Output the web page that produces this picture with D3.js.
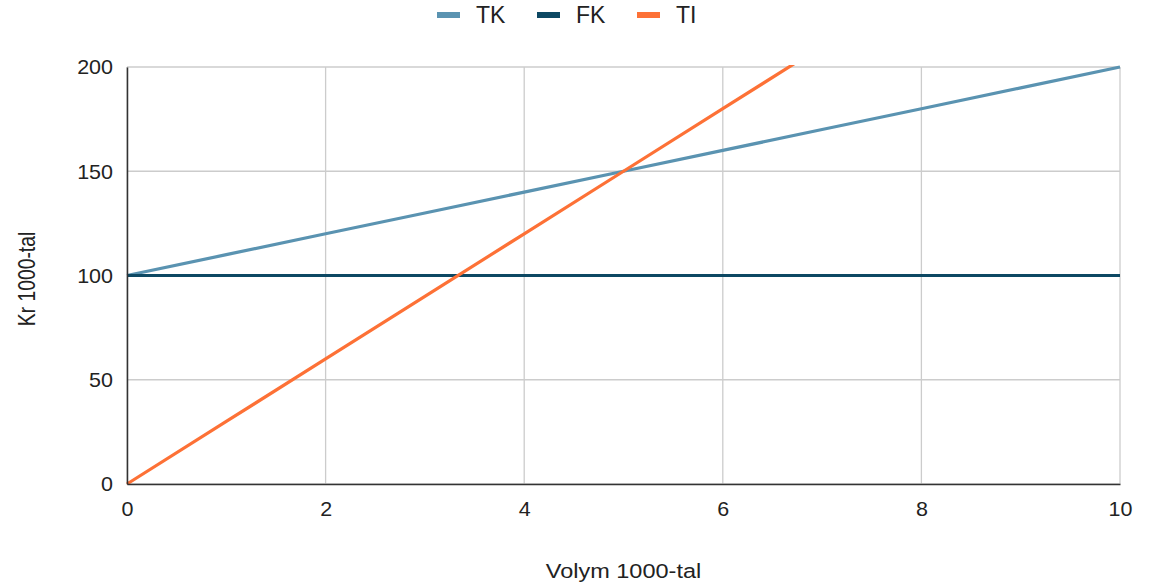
<!DOCTYPE html>
<html>
<head>
<meta charset="utf-8">
<script src="https://cdn.jsdelivr.net/npm/d3@7"></script>
<style>
  body { margin: 0; background: #fff; }
  svg text { font-family: "Liberation Sans", Arial, sans-serif; fill: #222; }
</style>
</head>
<body>
<svg id="chart" width="1150" height="587"></svg>
<script>
// data
const volym = [0, 1, 2, 3, 4, 5, 6, 7, 8, 9, 10];
const tk = [100, 110, 120, 130, 140, 150, 160, 170, 180, 190, 200];
const fk = [100, 100, 100, 100, 100, 100, 100, 100, 100, 100, 100];
const ti = [0, 30, 60, 90, 120, 150, 180, 210, 240, 270, 300];
const seriesNames = ["TK", "FK", "TI"];
const xTicks = [0, 2, 4, 6, 8, 10];
const yTicks = [0, 50, 100, 150, 200];

const colors = { TK: "#5a93b1", FK: "#0d4863", TI: "#fd7136" };
const series = [
  { name: "TK", values: tk },
  { name: "FK", values: fk },
  { name: "TI", values: ti },
];

const margin = { top: 67, right: 30, bottom: 103, left: 127 };
const width = 1150, height = 587;
const innerWidth = width - margin.left - margin.right;
const innerHeight = height - margin.top - margin.bottom;

const svg = d3.select("#chart");
const g = svg.append("g").attr("transform", `translate(${margin.left},${margin.top})`);

const x_Scale = d3.scaleLinear().domain([0, 10]).range([0, innerWidth]);
const y_Scale = d3.scaleLinear().domain([0, 200]).range([innerHeight, 0]);

// grid
g.selectAll(".vgrid").data(xTicks).join("line")
  .attr("x1", d => x_Scale(d)).attr("x2", d => x_Scale(d))
  .attr("y1", 0).attr("y2", innerHeight)
  .attr("stroke", "#cccccc").attr("stroke-width", 1.3);
g.selectAll(".hgrid").data(yTicks).join("line")
  .attr("x1", 0).attr("x2", innerWidth)
  .attr("y1", d => y_Scale(d)).attr("y2", d => y_Scale(d))
  .attr("stroke", "#cccccc").attr("stroke-width", 1.3);

// clip lines to the plot area
svg.append("defs").append("clipPath").attr("id", "plotclip")
  .append("rect").attr("x", -2).attr("y", -2).attr("width", innerWidth + 4).attr("height", innerHeight + 4);

const line = d3.line().x((d, i) => x_Scale(volym[i])).y(d => y_Scale(d));

g.append("g").attr("clip-path", "url(#plotclip)")
  .selectAll("path").data(series).join("path")
  .attr("d", d => line(d.values))
  .attr("fill", "none")
  .attr("stroke", d => colors[d.name])
  .attr("stroke-width", 3.2)
  .attr("stroke-linejoin", "round");

// axes (the reference text is a bit squashed vertically)
const xAxis = g.append("g").attr("transform", `translate(0,${innerHeight})`)
  .attr("font-size", 21.5).attr("font-family", null)
  .call(d3.axisBottom(x_Scale).tickValues(xTicks).tickSize(0).tickPadding(19));
xAxis.attr("font-size", 21.5).attr("font-family", null);
xAxis.select(".domain").attr("stroke", "#333").attr("stroke-width", 1.5);
xAxis.selectAll("text").attr("transform", "scale(1,0.92)").style("fill", "#222");

const yAxis = g.append("g")
  .call(d3.axisLeft(y_Scale).tickValues(yTicks).tickSize(0).tickPadding(14));
yAxis.attr("font-size", 21.5).attr("font-family", null);
yAxis.select(".domain").attr("stroke", "#333").attr("stroke-width", 1.5);
yAxis.selectAll("text").attr("dy", "0.35em").attr("transform", "scale(1,0.92)").style("fill", "#222");

// axis titles
svg.append("text")
  .attr("transform", "translate(623.5,578) scale(1,0.89)")
  .attr("text-anchor", "middle").attr("font-size", 23.5).text("Volym 1000-tal");
svg.append("text")
  .attr("transform", "translate(35,279) rotate(-90) scale(0.84,1)")
  .attr("text-anchor", "middle").attr("font-size", 23).text("Kr 1000-tal");

// legend
const legendX = [437, 537, 637];
const legend = svg.selectAll(".legend").data(seriesNames).join("g")
  .attr("transform", (d, i) => `translate(${legendX[i]},15)`);
legend.append("rect").attr("x", 0).attr("y", -3).attr("width", 23).attr("height", 6)
  .attr("fill", d => colors[d]);
legend.append("text").attr("x", 39).attr("y", 0).attr("dy", "0.36em")
  .attr("font-size", 23).text(d => d);
</script>
</body>
</html>
